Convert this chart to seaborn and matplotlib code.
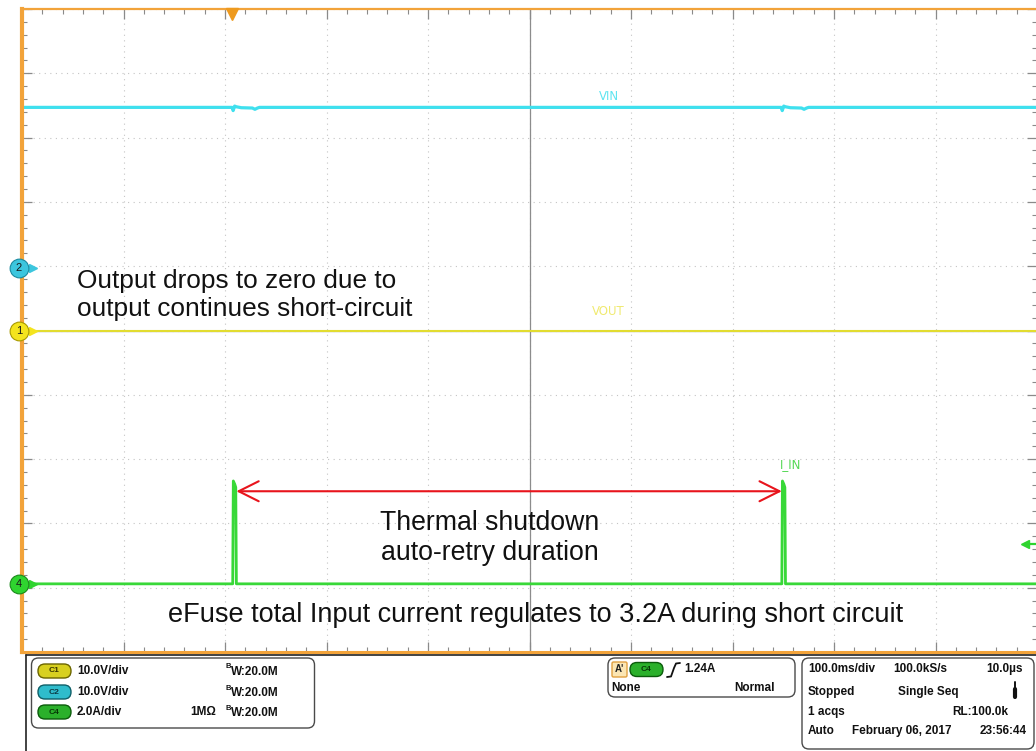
import numpy as np
import pandas as pd
import matplotlib
matplotlib.use("Agg")
import matplotlib.pyplot as plt
import matplotlib.transforms as mtransforms
from matplotlib.ticker import MultipleLocator
from matplotlib.patches import FancyBboxPatch
import seaborn as sns

# ---------------- data ----------------
vin_time_ms = [0, 207, 208, 209.5, 211, 216, 227, 229.5, 232, 234,
               748, 749, 750.5, 752, 757, 768, 770.5, 773, 775, 1000]
vin_volts = [25.0, 25.0, 24.5, 25.2, 25.1, 24.95, 24.9, 24.7, 24.9, 25.0,
             25.0, 24.5, 25.2, 25.1, 24.95, 24.9, 24.7, 24.9, 25.0, 25.0]
vout_time_ms = [0, 1000]
vout_volts = [0.0, 0.0]
iin_time_ms = [0, 207.6, 208.2, 209.6, 210.6, 211.2,
               748.6, 749.2, 750.6, 751.6, 752.2, 1000]
iin_amps = [0.0, 0.0, 3.2, 3.1, 3.0, 0.0,
            0.0, 3.2, 3.1, 3.0, 0.0, 0.0]

trace_names = ["VIN", "VOUT", "I_IN"]
channel_ids = ["2", "1", "4"]
channel_scale = [10.0, 10.0, 2.0]          # units / division
channel_offset_div = [0.97, 0.0, -3.94]    # marker position (divisions)
trigger_time_ms = 207
trigger_level_a = 1.24

W, H = 1036, 751
ORANGE = "#F2A33A"
trace_colors = ["#3fe0ee", "#e2dc30", "#38d838"]
label_colors = ["#5ee4f0", "#f0ea70", "#55d855"]
marker_fc = ["#3cc6de", "#f4e41e", "#2fd42f"]
marker_ec = ["#1a8aa0", "#a89a00", "#1a8a1a"]

sns.set_style("white")
plt.rcParams["font.family"] = ["Liberation Sans", "DejaVu Sans"]

fig = plt.figure(figsize=(W / 100, H / 100), dpi=100, facecolor="white")
rect = [22 / W, (H - 652) / H, 1015 / W, 643 / H]

# crosshair axes (behind)
axc = fig.add_axes(rect)
axc.set_xlim(0, 1000)
axc.set_ylim(-5, 5)
axc.set_zorder(0)
for s in ["top", "right"]:
    axc.spines[s].set_visible(False)
axc.spines["left"].set_position(("data", 500))
axc.spines["bottom"].set_position(("data", 0))
for s in ["left", "bottom"]:
    axc.spines[s].set_color("#8c8c8c")
    axc.spines[s].set_linewidth(0.9)
axc.xaxis.set_major_locator(MultipleLocator(100))
axc.xaxis.set_minor_locator(MultipleLocator(20))
axc.yaxis.set_major_locator(MultipleLocator(1))
axc.yaxis.set_minor_locator(MultipleLocator(0.2))
axc.tick_params(which="both", direction="inout", length=5, width=0.8,
                color="#8c8c8c", labelbottom=False, labelleft=False)
axc.grid(which="major", linestyle=(0, (1, 4)), color="#c4c4c4", lw=0.8)

# main axes
ax = fig.add_axes(rect)
ax.set_zorder(1)
ax.patch.set_alpha(0)

frames = []
for name, t, v, sc, off in zip(trace_names,
                               [vin_time_ms, vout_time_ms, iin_time_ms],
                               [vin_volts, vout_volts, iin_amps],
                               channel_scale, channel_offset_div):
    frames.append(pd.DataFrame({"trace": name, "time_ms": t,
                                "div": off + np.asarray(v, float) / sc}))
df = pd.concat(frames, ignore_index=True)

for name, col, lw in zip(trace_names, trace_colors, [2.3, 1.5, 2.0]):
    sns.lineplot(data=df[df.trace == name], x="time_ms", y="div", color=col,
                 lw=lw, estimator=None, sort=False, legend=False, ax=ax)

ax.set_xlim(0, 1000)
ax.set_ylim(-5, 5)
ax.set_xlabel("")
ax.set_ylabel("")
ax.xaxis.set_major_locator(MultipleLocator(100))
ax.xaxis.set_minor_locator(MultipleLocator(20))
ax.yaxis.set_major_locator(MultipleLocator(1))
ax.yaxis.set_minor_locator(MultipleLocator(0.2))
ax.tick_params(which="both", direction="in", top=True, right=True,
               bottom=True, left=True, labelbottom=False, labelleft=False,
               color="#8a8a8a")
ax.tick_params(which="major", length=7, width=0.9)
ax.tick_params(which="minor", length=3.6, width=0.8)
ax.spines["right"].set_visible(False)
ax.spines["left"].set_color(ORANGE)
ax.spines["left"].set_linewidth(3.0)
ax.spines["top"].set_color(ORANGE)
ax.spines["top"].set_linewidth(1.6)
ax.spines["bottom"].set_color(ORANGE)
ax.spines["bottom"].set_linewidth(2.2)

# trigger position marker
down5 = ax.transData + mtransforms.ScaledTranslation(0, -5 / 100, fig.dpi_scale_trans)
ax.plot([trigger_time_ms], [5], marker="v", ms=9, color="#EE9A1E",
        transform=down5, clip_on=False, zorder=6)

# channel markers at the left edge
blend = mtransforms.blended_transform_factory(ax.transAxes, ax.transData)
for cid, off, fc, ec, col in zip(channel_ids, channel_offset_div, marker_fc, marker_ec, trace_colors):
    ax.plot([-0.003, 0.010], [off, off], color=fc, lw=1.6, transform=blend,
            clip_on=False, zorder=7)
    ax.plot([0.011], [off], marker=">", ms=5.5, color=fc, transform=blend,
            clip_on=False, zorder=7)
    ax.plot([-0.003], [off], marker="o", ms=13.5, mfc=fc, mec=ec, mew=0.8,
            transform=blend, clip_on=False, zorder=8)
    ax.text(-0.003, off, cid, transform=blend, ha="center", va="center",
            fontsize=8, color="#1a1a1a", zorder=9, clip_on=False)

# trigger level marker on the right (channel 4)
lvl = channel_offset_div[2] + trigger_level_a / channel_scale[2]
ax.plot([0.988, 1.0], [lvl, lvl], color="#2fd42f", lw=1.6, transform=blend,
        clip_on=False, zorder=7)
ax.plot([0.988], [lvl], marker="<", ms=6, color="#2fd42f", transform=blend,
        clip_on=False, zorder=7)

# trace labels
for name, (tx, ty), col in zip(trace_names,
                               [(568, 3.64), (561, 0.29), (747, -2.08)],
                               label_colors):
    ax.text(tx, ty, name, color=col, fontsize=8.5, ha="left", va="center",
            family=["DejaVu Sans"])

# red double arrow between the retry pulses
arrow_y = -2.5
ax.annotate("", xy=(iin_time_ms[5], arrow_y), xytext=(iin_time_ms[6], arrow_y),
            arrowprops=dict(arrowstyle="<->,head_length=0.72,head_width=0.36",
                            color="#e8141c", lw=1.5, shrinkA=0, shrinkB=0,
                            mutation_scale=20), zorder=6)

ax.text(54, 0.55, "Output drops to zero due to\noutput continues short-circuit",
        fontsize=18.9, ha="left", va="center", linespacing=1.22, color="#111111")
ax.text(461, -3.22, "Thermal shutdown\nauto-retry duration", fontsize=19.2,
        ha="center", va="center", multialignment="center", linespacing=1.2,
        color="#111111")
ax.text(506, -4.43, "eFuse total Input current regulates to 3.2A during short circuit",
        fontsize=19.5, ha="center", va="center", color="#111111")

# ---------------- bottom status panel ----------------
axp = fig.add_axes([0, 0, 1, 1])
axp.set_xlim(0, W)
axp.set_ylim(H, 0)
axp.axis("off")
axp.set_zorder(2)
axp.plot([26, 26], [654.5, H], color="#222222", lw=1.2)
axp.plot([26, W], [654.5, 654.5], color="#222222", lw=1.2)

def rbox(x, y, w, h, r, fc="none", ec="#4a4a4a", lw=1.0):
    axp.add_patch(FancyBboxPatch((x, y), w, h, boxstyle=f"round,pad=0,rounding_size={r}",
                                 fc=fc, ec=ec, lw=lw))

rbox(31.5, 658, 283, 70, 7)
rbox(608, 658, 187, 39, 7)
rbox(802, 658, 232, 91, 7)

pill_rows = [("C1", 671, "#d8d020", "#6b6500", "#3a3600"),
             ("C2", 692, "#2fbccc", "#0f5f68", "#0a3c44"),
             ("C4", 712, "#2bb02b", "#0b5b0b", "#063806")]
for lab, y, fc, ec, tc in pill_rows:
    rbox(38, y - 7, 33, 14, 7, fc=fc, ec=ec, lw=1.0)
    axp.text(54.5, y, lab, ha="center", va="center", fontsize=6, color=tc,
             fontweight="bold")

FS = 8.5
kw = dict(fontsize=FS, fontweight="bold", color="#111111", va="center")
axp.text(77, 671, "10.0V/div", ha="left", **kw)
axp.text(77, 692, "10.0V/div", ha="left", **kw)
axp.text(77, 712, "2.0A/div", ha="left", **kw)
for y in [671, 692, 712]:
    axp.text(226, y - 4, "B", ha="left", va="center", fontsize=5.5,
             fontweight="bold", color="#111111")
    axp.text(231, y + 1, "W:20.0M", ha="left", **kw)
axp.text(190, 712, "1M\u03a9", ha="left", **kw)

# trigger box
rbox(612, 662, 15, 15, 1.5, fc="#fbe6b4", ec="#e0a040", lw=1.0)
axp.text(619.5, 669.5, "A'", ha="center", va="center", fontsize=7,
         fontweight="bold", color="#222222")
rbox(630, 662.5, 33, 14, 7, fc="#2bb02b", ec="#0b5b0b")
axp.text(646.5, 669.5, "C4", ha="center", va="center", fontsize=6,
         fontweight="bold", color="#063806")
axp.plot([667, 671, 674, 676, 680], [677, 676.5, 668, 663.5, 663],
         color="#111111", lw=1.3)
axp.text(684, 669, "1.24A", ha="left", **kw)
axp.text(611, 688, "None", ha="left", **kw)
axp.text(775, 688, "Normal", ha="right", **kw)

# timebase box
axp.text(808, 669, "100.0ms/div", ha="left", **kw)
axp.text(893, 669, "100.0kS/s", ha="left", **kw)
axp.text(1023, 669, "10.0\u00b5s", ha="right", **kw)
axp.text(808, 692, "Stopped", ha="left", **kw)
axp.text(898, 692, "Single Seq", ha="left", **kw)
axp.plot([1015, 1015], [682, 696], color="#111111", lw=1.4, solid_capstyle="round")
axp.plot([1015, 1015], [689, 697], color="#111111", lw=3.0, solid_capstyle="round")
axp.text(808, 712, "1 acqs", ha="left", **kw)
axp.text(1008, 712, "RL:100.0k", ha="right", **kw)
axp.text(808, 731, "Auto", ha="left", **kw)
axp.text(852, 731, "February 06, 2017", ha="left", **kw)
axp.text(1027, 731, "23:56:44", ha="right", **kw)

fig.savefig("out.png", dpi=100, facecolor="white")
